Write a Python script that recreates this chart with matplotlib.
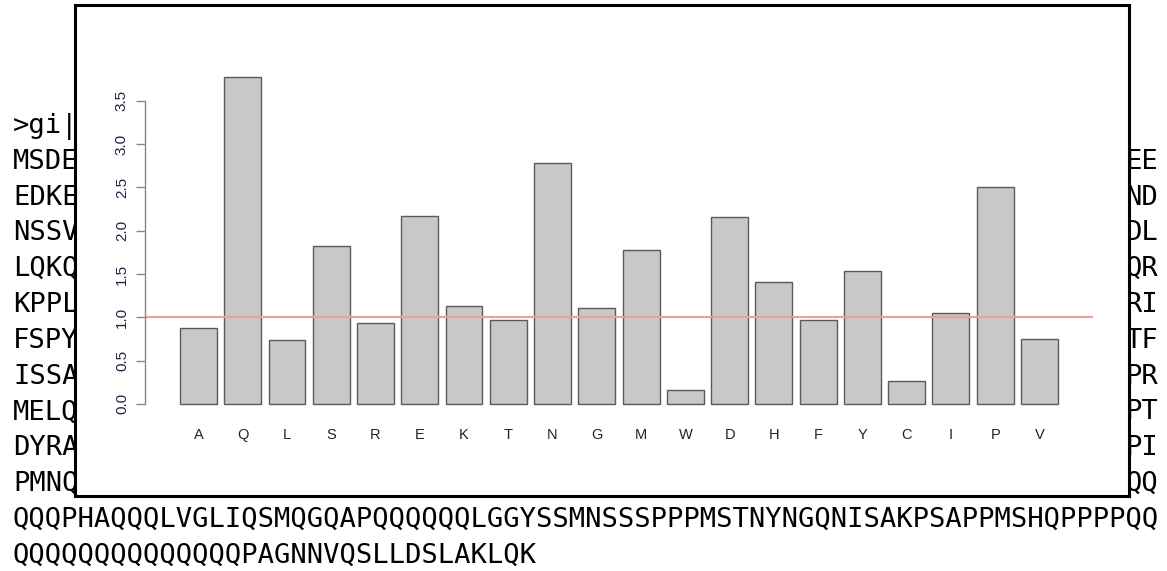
import numpy as np
import matplotlib
matplotlib.use('Agg')
import matplotlib.pyplot as plt

W, H = 1167, 571

# amino acids and their ratio
aa = ['A', 'Q', 'L', 'S', 'R', 'E', 'K', 'T', 'N', 'G',
      'M', 'W', 'D', 'H', 'F', 'Y', 'C', 'I', 'P', 'V']
ratio = [0.88, 3.78, 0.735, 1.82, 0.93, 2.17, 1.13, 0.97, 2.78, 1.105,
         1.78, 0.162, 2.16, 1.41, 0.97, 1.53, 0.26, 1.05, 2.51, 0.75]

yticks = [0.0, 0.5, 1.0, 1.5, 2.0, 2.5, 3.0, 3.5]
ytick_labels = ['0.0', '0.5', '1.0', '1.5', '2.0', '2.5', '3.0', '3.5']

# fasta text behind the chart (only the parts that show)
left_parts = ['>gi|', 'MSDE', 'EDKE', 'NSSV', 'LQKQ', 'KPPL', 'FSPY',
              'ISSA', 'MELQ', 'DYRA', 'PMNQ']
right_parts = ['', 'EE', 'ND', 'DL', 'QR', 'RI', 'TF', 'PR', 'PT', 'PI', 'QQ']
full_lines = ['QQQPHAQQQLVGLIQSMQGQAPQQQQQQLGGYSSMNSSSPPPMSTNYNGQNISAKPSAPPMSHQPPPPQQ',
              'QQQQQQQQQQQQQQPAGNNVQSLLDSLAKLQK']

fig = plt.figure(figsize=(W / 100, H / 100), dpi=100)

########################## текст #################################

char_w = 16.36
x0 = 13
mono = dict(family='DejaVu Sans Mono', size=19.55, color='black', va='baseline', zorder=0)

rows = len(left_parts) + len(full_lines)
for k in range(rows):
    y = 1 - (133 + 35.8 * k) / H
    if k < len(left_parts):
        fig.text(x0 / W, y, left_parts[k], **mono)
        if right_parts[k]:
            fig.text((x0 + 68 * char_w) / W, y, right_parts[k], **mono)
    else:
        fig.text(x0 / W, y, full_lines[k - len(left_parts)], **mono)

########################## рамка ################################

frame = fig.add_axes([75 / W, 1 - 496 / H, (1129 - 75) / W, (496 - 5) / H], zorder=1)
frame.set_facecolor('white')
frame.set_xticks([])
frame.set_yticks([])
for s in frame.spines.values():
    s.set_linewidth(2.2)
    s.set_color('black')

########################## barplot ###############################

ax = fig.add_axes([144.9 / W, 1 - 417 / H, (1093 - 144.9) / W, (417 - 63.6) / H], zorder=2)
ax.set_facecolor('none')

x = 0.7 + 1.2 * np.arange(len(aa))
ax.bar(x, ratio, width=1.0, color='#c8c8c8', edgecolor='#5a5a5a', linewidth=1.0)
ax.axhline(1, color='#e8a0a0', linewidth=1.5)

top = max(ratio)
ax.set_xlim(0.2 - 0.04 * 23.8, 24 + 0.04 * 23.8)
ax.set_ylim(-0.04 * top, top * 1.04)

for side in ['top', 'right', 'bottom']:
    ax.spines[side].set_visible(False)
ax.spines['left'].set_bounds(0, 3.5)
ax.spines['left'].set_color('#888888')
ax.spines['left'].set_linewidth(1.0)

ax.set_yticks(yticks)
ax.set_yticklabels(ytick_labels, rotation=90, va='center', family='Liberation Sans',
                   fontsize=11, color='#222244')
ax.tick_params(axis='y', length=6.5, width=1.0, color='#888888', pad=5)

ax.set_xticks(x)
ax.set_xticklabels(aa, family='Liberation Sans', fontsize=10.5, color='#222222')
ax.tick_params(axis='x', length=0, pad=8)

plt.savefig('out.png', dpi=100)
